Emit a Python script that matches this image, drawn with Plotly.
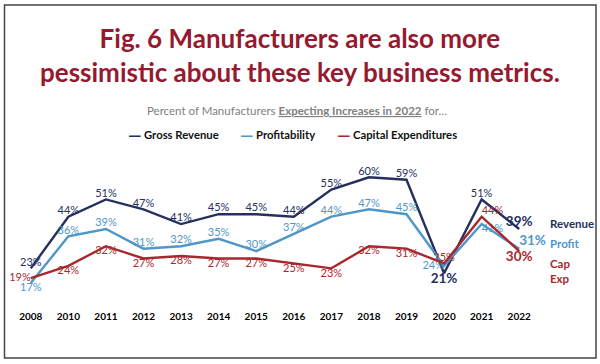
import plotly.graph_objects as go

years = ["2008", "2010", "2011", "2012", "2013", "2014", "2015", "2016",
         "2017", "2018", "2019", "2020", "2021", "2022"]
revenue = [23, 44, 51, 47, 41, 45, 45, 44, 55, 60, 59, 21, 51, 39]
profit = [17, 36, 39, 31, 32, 35, 30, 37, 44, 47, 45, 24, 41, 31]
capex = [19, 24, 32, 27, 28, 27, 27, 25, 23, 32, 31, 25, 44, 30]
series_names = ["Gross Revenue", "Profitability", "Capital Expenditures"]
end_labels = ["Revenue", "Profit", "Cap<br>Exp"]

rev_pos = ["top center"] * 11 + ["bottom center", "top center", "top center"]
prof_pos = ["bottom center"] + ["top center"] * 10 + ["middle left", "bottom right", "top right"]
cap_pos = ["middle left"] + ["bottom center"] * 10 + ["top center", "top right", "bottom center"]
# emphasised labels (bigger, bold)
rev_big = [False] * 11 + [True, False, True]
prof_big = [False] * 13 + [True]
cap_big = [False] * 13 + [True]

NAVY = "#26305F"
BLUE = "#4F97C8"
RED = "#A8282E"
TITLE = "#95192F"
FONT = "Lato"
COLORS = [NAVY, BLUE, RED]

fig = go.Figure()
for name, vals, pos, big, col in zip(series_names, [revenue, profit, capex],
                                     [rev_pos, prof_pos, cap_pos],
                                     [rev_big, prof_big, cap_big], COLORS):
    fig.add_trace(go.Scatter(
        x=years, y=vals, name=name, mode="lines+text",
        line=dict(color=col, width=2.4),
        text=[f"<b>{v}%</b>" if b else f"{v}%" for v, b in zip(vals, big)],
        textposition=pos,
        textfont=dict(family=FONT, size=[13.5 if b else 11 for b in big], color=col),
        cliponaxis=False, hoverinfo="skip", showlegend=False,
    ))

L, R, T, B = 12, 62, 150, 59
W, H = 600, 364
pw, ph = W - L - R, H - T - B

def px(x):
    return (x - L) / pw

def py(y):
    return 1 + (T - y) / ph

fig.update_layout(
    width=W, height=H,
    margin=dict(l=L, r=R, t=T, b=B),
    paper_bgcolor="white", plot_bgcolor="white",
    font=dict(family=FONT, color="#000"),
    showlegend=False,
    xaxis=dict(type="category", range=[-0.5, 13.5], showgrid=False, zeroline=False,
               showline=False, ticks="", ticklabelstandoff=4,
               tickfont=dict(family=FONT, size=10, color="#000", weight="bold")),
    yaxis=dict(range=[8.1, 71.1], visible=False),
)

fig.add_annotation(xref="paper", yref="paper", x=px(300), y=py(55),
                   text="<b>Fig. 6 Manufacturers are also more<br>pessimistic about these key business metrics.</b>",
                   showarrow=False, font=dict(family=FONT, size=26, color=TITLE),
                   align="center", xanchor="center", yanchor="middle")
fig.add_annotation(xref="paper", yref="paper", x=px(297), y=py(110),
                   text="Percent of Manufacturers <b><u>Expecting Increases in 2022</u></b> for…",
                   showarrow=False, font=dict(family=FONT, size=11.5, color="#808080"),
                   xanchor="center", yanchor="middle")

# legend: coloured dash + bold label
for name, col, dash_x, text_x in zip(series_names, COLORS, [135, 246.5, 344], [142, 254, 351]):
    fig.add_annotation(xref="paper", yref="paper", x=px(dash_x), y=py(134),
                       text="<b>—</b>", showarrow=False,
                       font=dict(family=FONT, size=17, color=col),
                       xanchor="center", yanchor="middle")
    fig.add_annotation(xref="paper", yref="paper", x=px(text_x), y=py(134),
                       text=f"<b>{name}</b>", showarrow=False,
                       font=dict(family=FONT, size=11.3, color="#111"),
                       xanchor="left", yanchor="middle")

for txt, yy, col in zip(end_labels, [223, 243, 271], COLORS):
    fig.add_annotation(xref="paper", yref="paper", x=px(548), y=py(yy),
                       text=f"<b>{txt}</b>", showarrow=False, align="left",
                       font=dict(family=FONT, size=11.5, color=col),
                       xanchor="left", yanchor="middle")

fig.add_shape(type="rect", xref="paper", yref="paper",
              x0=px(4.5), x1=px(596), y0=py(358), y1=py(5),
              line=dict(color="#444", width=1.5), fillcolor="rgba(0,0,0,0)")

fig.write_html("out.html", config={"displayModeBar": False},
               post_script="document.body.style.margin='0';")
